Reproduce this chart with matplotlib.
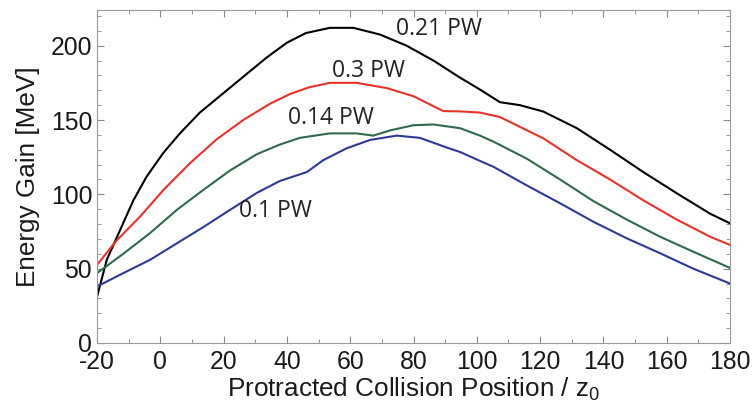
import matplotlib
matplotlib.use("Agg")
import matplotlib.pyplot as plt
from matplotlib.ticker import MultipleLocator

plt.rcParams["font.family"] = ["Liberation Sans", "DejaVu Sans"]
plt.rcParams["axes.unicode_minus"] = False

# values
x_021 = [-20, -16.9, -12.7, -8.5, -4.3, 1, 6.2, 12.5, 19.9, 27.3, 33.6, 40, 46, 53.6, 61,
         69.4, 77.8, 86.3, 94.7, 101, 107.3, 113.6, 121, 131.6, 142.1, 152.6, 163.2, 173.7, 180]
y_021 = [31, 56, 76, 96, 112, 128, 141, 155, 168, 181, 192, 202, 208.5, 212, 212,
         207.5, 200, 190, 178.5, 170.5, 162, 160, 155.7, 144.5, 130, 115, 100.7, 87, 80.5]

x_03 = [-20, -13.8, -6.4, 1, 9.4, 17.8, 26.2, 34.7, 41, 47, 53.6, 62, 71.5, 80, 89.4,
        94.7, 101, 107.3, 121, 131.6, 142.1, 152.6, 163.2, 173.7, 180]
y_03 = [52.5, 69, 85, 103, 121, 137, 150, 161, 167.5, 172, 175, 175, 171.5, 166, 156,
        155.8, 155, 152, 137.7, 123, 110, 96, 83, 71.5, 66]

x_014 = [-20, -11.7, -3.2, 5.2, 13.6, 22, 30.5, 37.8, 44.1, 53.6, 62, 67.3, 72.6, 80, 86.3,
         94.7, 101, 105.2, 115.8, 126.3, 136.8, 147.4, 157.9, 168.4, 180]
y_014 = [47, 60, 74, 89.5, 103, 116, 127, 133.5, 138, 141, 141, 139.5, 143, 146.5, 147,
         144.5, 139.5, 135.5, 124, 110, 95.5, 83, 71.5, 61.4, 50.5]

x_01 = [-20, -11.7, -3.2, 5.2, 13.6, 22, 30.5, 37.8, 46.3, 51.5, 58.9, 66.3, 74.7, 82, 90.5,
        94.7, 101, 105.2, 115.8, 126.3, 136.8, 147.4, 157.9, 168.4, 180]
y_01 = [38, 47, 56, 67, 78, 89.5, 101, 109, 115, 123, 131, 136.6, 139.5, 138, 131.5,
        128.5, 122.5, 118.6, 106, 94, 81.6, 70.4, 60.4, 50, 40]

labels = ["0.21 PW", "0.3 PW", "0.14 PW", "0.1 PW"]
label_x = [74.5, 54.2, 40.3, 24.9]
label_y = [211, 183, 151.5, 89]

fig = plt.figure(figsize=(7.54, 4.13), dpi=100)
ax = fig.add_axes([97 / 754, 1 - 343 / 413, (730 - 97) / 754, (343 - 10) / 413])

ax.plot(x_021, y_021, color="black", lw=1.5)
ax.plot(x_03, y_03, color="#e5332a", lw=1.5)
ax.plot(x_014, y_014, color="#2f6a4c", lw=1.5)
ax.plot(x_01, y_01, color="#2d3a98", lw=1.5)

for t, lx, ly in zip(labels, label_x, label_y):
    ax.text(lx, ly, t, fontsize=16.5, family="Open Sans", va="center", ha="left",
            color="#222222")

ax.set_xlim(-20, 180)
ax.set_ylim(0, 224)
ax.xaxis.set_major_locator(MultipleLocator(20))
ax.xaxis.set_minor_locator(MultipleLocator(10))
ax.yaxis.set_major_locator(MultipleLocator(50))
ax.yaxis.set_minor_locator(MultipleLocator(10))
ax.tick_params(which="both", direction="in", top=True, right=True, color="#888888",
               labelsize=17.8, labelcolor="#1a1a1a")
ax.tick_params(which="major", length=5)
ax.tick_params(which="minor", length=3)
ax.tick_params(axis="x", pad=5)
ax.tick_params(axis="y", pad=3.5)
for s in ax.spines.values():
    s.set_color("#999999")

ax.set_xlabel(r"Protracted Collision Position / z$_\mathregular{0}$", fontsize=18.8,
              color="#1a1a1a", labelpad=1)
ax.set_ylabel("Energy Gain [MeV]", fontsize=18.8, color="#1a1a1a", labelpad=8)

fig.savefig("out.png", dpi=100)
